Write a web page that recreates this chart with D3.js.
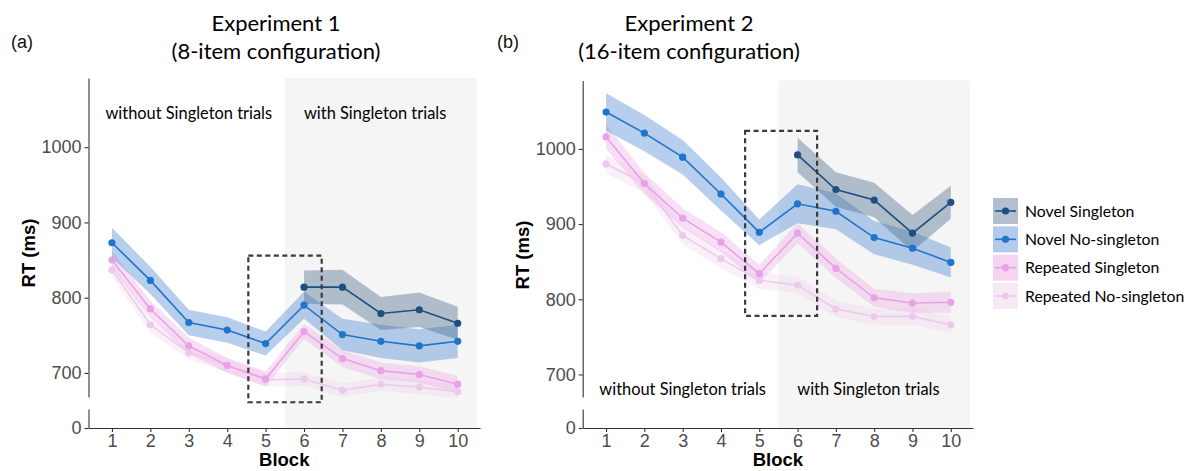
<!DOCTYPE html>
<html><head><meta charset="utf-8">
<script src="https://cdn.jsdelivr.net/npm/d3@7"></script>
<style>body{margin:0;background:#fff}svg{display:block}</style>
</head><body>
<svg id="c" width="1193" height="471"></svg>
<script>
// ---------- data ----------
const blocks = [1,2,3,4,5,6,7,8,9,10];
const singletonBlocks = [6,7,8,9,10];
const yTicks = [700,800,900,1000];
const zeroTick = [0];
const seriesNames = ["Novel Singleton","Novel No-singleton","Repeated Singleton","Repeated No-singleton"];
const panelTitles1 = ["Experiment 1","(8-item configuration)"];
const panelTitles2 = ["Experiment 2","(16-item configuration)"];
const panelLetters = ["(a)","(b)"];
const phaseLabels = ["without Singleton trials","with Singleton trials"];

// Experiment 1 (means and CI half-widths, ms)
const e1NovelSingleton     = [814,814,779,784,766];
const e1NovelSingletonCI   = [22,23,22,23,22];
const e1NovelNoSingleton   = [873,823,767,757,739,790,751,742,736,742];
const e1NovelNoSingletonCI = [20,18,17,17,16,18,21,22,22,22];
const e1RepSingleton       = [850,785,736,710,692,755,719,703,698,685];
const e1RepSingletonCI     = [12,11,11,10,10,10,11,11,11,11];
const e1RepNoSingleton     = [837,764,727,710,691,692,677,685,681,675];
const e1RepNoSingletonCI   = [10,10,9,9,9,9,9,9,9,9];

// Experiment 2
const e2NovelSingleton     = [992,946,932,888,929];
const e2NovelSingletonCI   = [23,23,23,24,22];
const e2NovelNoSingleton   = [1049,1021,989,940,889,927,917,882,868,849];
const e2NovelNoSingletonCI = [25,24,23,22,17,26,24,22,22,20];
const e2RepSingleton       = [1016,954,908,876,834,888,841,802,795,796];
const e2RepSingletonCI     = [16,14,13,13,12,13,13,12,13,14];
const e2RepNoSingleton     = [980,954,885,854,825,819,787,777,777,766];
const e2RepNoSingletonCI   = [13,12,12,12,11,11,11,11,11,11];

// ---------- styles ----------
const styles = {
  "Novel Singleton":      {line:"#1e4f80", band:"#4f6d90", bandOp:0.42, key:"#b3bfcf"},
  "Novel No-singleton":   {line:"#1f74cc", band:"#5f94d8", bandOp:0.45, key:"#b2cbec"},
  "Repeated Singleton":   {line:"#eaa2e6", band:"#eab0e7", bandOp:0.40, key:"#f5d4f2"},
  "Repeated No-singleton":{line:"#eccbea", band:"#f0d2ee", bandOp:0.33, key:"#f8e9f7"}
};

const svg = d3.select("#c");
const tickFont = "'Liberation Sans', Arial, sans-serif";
const textFont = "Lato, 'Open Sans', sans-serif";

function drawPanel(p){
  const x = d3.scaleLinear().domain([0.39,10.58]).range([p.left, p.right]);
  const y = d3.scaleLinear().domain(p.yDomain).range([p.yBottom, p.yTop]);
  const y0 = d3.scaleLinear().domain([0,25]).range([p.xAxisY, p.zeroTop]);
  const g = svg.append("g");

  // shaded region for singleton phase
  g.append("rect")
    .attr("x", x(5.5)).attr("width", x(10.5)-x(5.5))
    .attr("y", p.yTop).attr("height", p.xAxisY - p.yTop)
    .attr("fill", "#f5f5f5");

  const series = [
    {name:"Repeated No-singleton", xs:blocks, v:p.data.rn, ci:p.data.rnci},
    {name:"Repeated Singleton", xs:blocks, v:p.data.rs, ci:p.data.rsci},
    {name:"Novel No-singleton", xs:blocks, v:p.data.nn, ci:p.data.nnci},
    {name:"Novel Singleton", xs:singletonBlocks, v:p.data.ns, ci:p.data.nsci}
  ];
  const area = d3.area().x(d=>x(d.b)).y0(d=>y(d.v-d.c)).y1(d=>y(d.v+d.c));
  const line = d3.line().x(d=>x(d.b)).y(d=>y(d.v));
  series.forEach(s=>{
    s.pts = s.xs.map((b,i)=>({b, v:s.v[i], c:s.ci[i]}));
  });
  series.forEach(s=>{
    const st = styles[s.name];
    g.append("path").datum(s.pts).attr("d", area)
      .attr("fill", st.band).attr("fill-opacity", st.bandOp);
  });
  series.forEach(s=>{
    const st = styles[s.name];
    g.append("path").datum(s.pts).attr("d", line)
      .attr("fill","none").attr("stroke", st.line).attr("stroke-width",1.6);
    g.selectAll(null).data(s.pts).enter().append("circle")
      .attr("cx", d=>x(d.b)).attr("cy", d=>y(d.v)).attr("r",3.6)
      .attr("fill", st.line);
  });

  // dashed box
  const bx = p.box;
  g.append("rect")
    .attr("x", x(bx[0])).attr("width", x(bx[1])-x(bx[0]))
    .attr("y", y(bx[3])).attr("height", y(bx[2])-y(bx[3]))
    .attr("fill","none").attr("stroke","#3a3a3a").attr("stroke-width",2.2)
    .attr("stroke-dasharray","5,3.5");

  // phase labels
  g.append("text").attr("x", x(3.0)).attr("y", y(p.phaseY)).attr("dy","0.35em")
    .attr("text-anchor","middle").attr("font-family",textFont).attr("font-size",16.4)
    .attr("fill","#000").text(phaseLabels[0]);
  g.append("text").attr("x", x(7.85)).attr("y", y(p.phaseY)).attr("dy","0.35em")
    .attr("text-anchor","middle").attr("font-family",textFont).attr("font-size",16.4)
    .attr("fill","#000").text(phaseLabels[1]);

  // axes
  const axStyle = sel=>{
    sel.selectAll("path.domain").attr("stroke","#333").attr("stroke-width",1.1);
    sel.selectAll(".tick line").attr("stroke","#333").attr("stroke-width",1.1);
    sel.selectAll(".tick text").attr("font-family",tickFont).attr("font-size",18).attr("fill","#4d4d4d");
  };
  const ya = g.append("g").attr("transform",`translate(${p.left},0)`)
    .call(d3.axisLeft(y).tickValues(yTicks).tickFormat(d3.format("d")).tickSize(4).tickSizeOuter(0).tickPadding(3));
  axStyle(ya);
  const ya0 = g.append("g").attr("transform",`translate(${p.left},0)`)
    .call(d3.axisLeft(y0).tickValues(zeroTick).tickFormat(d3.format("d")).tickSize(4).tickSizeOuter(0).tickPadding(3));
  axStyle(ya0);
  const xa = g.append("g").attr("transform",`translate(0,${p.xAxisY})`)
    .call(d3.axisBottom(x).tickValues(blocks).tickFormat(d3.format("d")).tickSize(4).tickSizeOuter(0).tickPadding(2));
  axStyle(xa);

  // axis titles
  g.append("text").attr("x",(p.left+p.right)/2).attr("y",466)
    .attr("text-anchor","middle").attr("font-family",tickFont).attr("font-weight","bold")
    .attr("font-size",18.5).attr("fill","#000").text("Block");
  g.append("text").attr("transform",`translate(${p.left-54},${p.ylabY}) rotate(-90)`)
    .attr("text-anchor","middle").attr("font-family",tickFont).attr("font-weight","bold")
    .attr("font-size",18.5).attr("fill","#000").text("RT (ms)");

  // titles
  g.append("text").attr("x",p.titleX).attr("y",31).attr("text-anchor","middle")
    .attr("font-family",textFont).attr("font-size",22).attr("fill","#000").text(p.titles[0]);
  g.append("text").attr("x",p.titleX).attr("y",59).attr("text-anchor","middle")
    .attr("font-family",textFont).attr("font-size",22).attr("fill","#000").text(p.titles[1]);
  g.append("text").attr("x",p.letterX).attr("y",48).attr("text-anchor","middle")
    .attr("font-family",tickFont).attr("font-size",18).attr("fill","#111").text(p.letter);
}

drawPanel({
  left:88.5, right:480, yTop:78, yBottom:397, zeroTop:409, xAxisY:428,
  yDomain:[668,1092], box:[4.55,6.46,661,856], phaseY:1045, ylabY:253,
  titleX:276, letterX:22, titles:panelTitles1, letter:panelLetters[0],
  data:{ns:e1NovelSingleton, nsci:e1NovelSingletonCI, nn:e1NovelNoSingleton, nnci:e1NovelNoSingletonCI,
        rs:e1RepSingleton, rsci:e1RepSingletonCI, rn:e1RepNoSingleton, rnci:e1RepNoSingletonCI}
});
drawPanel({
  left:582.7, right:973, yTop:80.5, yBottom:397, zeroTop:409, xAxisY:428,
  yDomain:[670,1091], box:[4.63,6.51,778,1024], phaseY:680, ylabY:255,
  titleX:689, letterX:508, titles:panelTitles2, letter:panelLetters[1],
  data:{ns:e2NovelSingleton, nsci:e2NovelSingletonCI, nn:e2NovelNoSingleton, nnci:e2NovelNoSingletonCI,
        rs:e2RepSingleton, rsci:e2RepSingletonCI, rn:e2RepNoSingleton, rnci:e2RepNoSingletonCI}
});

// legend
const leg = svg.append("g");
const legY = d3.scalePoint().domain(seriesNames).range([211,296]);
seriesNames.forEach(n=>{
  const st = styles[n], cy = legY(n);
  leg.append("rect").attr("x",993).attr("y",cy-13).attr("width",25).attr("height",26).attr("fill",st.key);
  leg.append("line").attr("x1",995).attr("x2",1016).attr("y1",cy).attr("y2",cy)
    .attr("stroke",st.line).attr("stroke-width",1.6);
  leg.append("circle").attr("cx",1005.5).attr("cy",cy).attr("r",3.6).attr("fill",st.line);
  leg.append("text").attr("x",1025).attr("y",cy).attr("dy","0.35em")
    .attr("font-family",textFont).attr("font-size",15.8).attr("fill","#000").text(n);
});
</script>
</body></html>
